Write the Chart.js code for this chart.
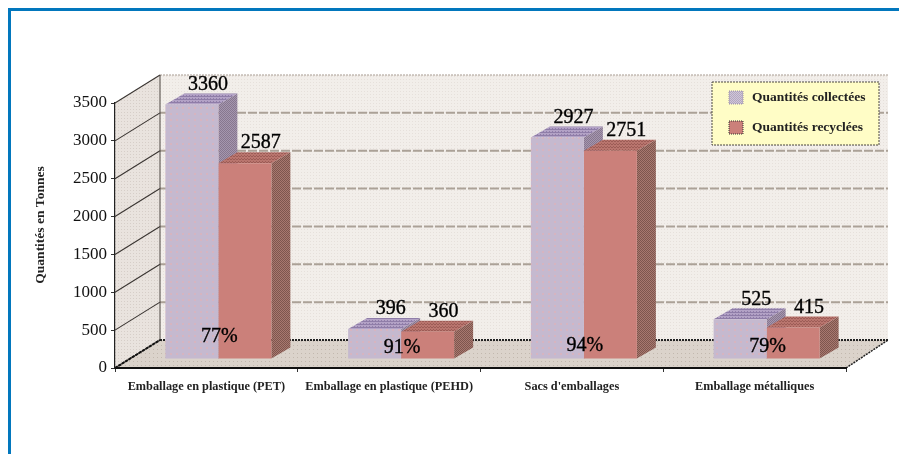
<!DOCTYPE html>
<html>
<head>
<meta charset="utf-8">
<script src="https://cdn.jsdelivr.net/npm/chart.js@4"></script>
<style>
  html, body { margin: 0; padding: 0; background: #fff; overflow: hidden; }
  #frame { position: absolute; left: 8px; top: 8px; width: 891px; height: 446px; border-top: 3px solid #0277bd; border-left: 3px solid #0277bd; box-sizing: border-box; }
  #wrap { position: absolute; left: 0; top: 0; width: 899px; height: 454px; }
  canvas { filter: blur(0.5px); }
</style>
</head>
<body>
<div id="frame"></div>
<div id="wrap"><canvas id="myChart" width="899" height="454"></canvas></div>
<script>
const categories = ['Emballage en plastique (PET)', 'Emballage en plastique (PEHD)', "Sacs d'emballages", 'Emballage métalliques'];
const collected = [3360, 396, 2927, 525];
const recycled = [2587, 360, 2751, 415];
const rates = ['77%', '91%', '94%', '79%'];
const yTitle = 'Quantités en Tonnes';

const serif = '"Liberation Serif", serif';
const wall = { dx: 45, dy: -28 };   // profondeur du mur du fond
const shift = { dx: 12, dy: -9 };   // les barres sont posées sur le sol
const depth = { dx: 19, dy: -11 };  // profondeur des barres
const rateLift = [22, 11, 13, 12];

// petit motif répété pour imiter la trame de l'image
function pattern(size, bg, dot, cells) {
  const c = document.createElement('canvas');
  c.width = c.height = size;
  const g = c.getContext('2d');
  g.fillStyle = bg;
  g.fillRect(0, 0, size, size);
  g.fillStyle = dot;
  cells.forEach(p => g.fillRect(p[0], p[1], 1, 1));
  return g.createPattern(c, 'repeat');
}
const fills = {
  back: pattern(3, '#f2eeea', '#e6e0db', [[1, 1]]),
  left: pattern(3, '#e9e3de', '#d6cec8', [[1, 1]]),
  floor: pattern(4, '#dbd3cb', '#c2b8ae', [[1, 1]]),
  purple: pattern(6, '#c5b9cf', '#d6b4c0', [[2, 2], [3, 2], [2, 3], [3, 3]]),
  purpleTop: pattern(3, '#b3a2c6', '#8f7da8', [[0, 0], [1, 0], [2, 0], [0, 2]]),
  purpleSide: pattern(2, '#a596ae', '#87778f', [[0, 0], [1, 1]]),
  red: '#cb807a',
  redTop: pattern(3, '#b9756e', '#9c5c56', [[0, 0], [2, 0], [1, 2]]),
  redSide: pattern(2, '#a8786f', '#7d564e', [[0, 0], [1, 1]]),
  swatchPurple: pattern(2, '#cfc5d8', '#b4a8c0', [[0, 0], [1, 1]])
};

function poly(ctx, pts, fill) {
  ctx.beginPath();
  pts.forEach((p, i) => i ? ctx.lineTo(p[0], p[1]) : ctx.moveTo(p[0], p[1]));
  ctx.closePath();
  ctx.fillStyle = fill;
  ctx.fill();
}
function line(ctx, x1, y1, x2, y2, color, width, dash) {
  ctx.beginPath();
  ctx.setLineDash(dash || []);
  ctx.moveTo(x1, y1);
  ctx.lineTo(x2, y2);
  ctx.strokeStyle = color;
  ctx.lineWidth = width;
  ctx.stroke();
  ctx.setLineDash([]);
}

const scene3d = {
  id: 'scene3d',
  // murs, sol et grille derrière tout le reste
  beforeDraw(chart) {
    const { ctx, chartArea: a, scales: { y } } = chart;
    const bx = a.left + wall.dx, bt = a.top + wall.dy, bb = a.bottom + wall.dy, br = a.right + 42;
    ctx.save();
    poly(ctx, [[bx, bt], [br, bt], [br, bb], [bx, bb]], fills.back);
    poly(ctx, [[a.left, a.top], [bx, bt], [bx, bb], [a.left, a.bottom]], fills.left);
    poly(ctx, [[a.left, a.bottom], [a.right, a.bottom], [br, bb], [bx, bb]], fills.floor);
    y.ticks.forEach(t => {
      const py = y.getPixelForValue(t.value);
      if (t.value > 0) {
        if (t.value === 3500) line(ctx, bx, py + wall.dy, br, py + wall.dy, '#a89c92', 1.2, [2, 1]);
        else line(ctx, bx, py + wall.dy, br, py + wall.dy, '#aba197', 2, [9, 2]);
      }
      line(ctx, a.left, py, bx, py + wall.dy, '#3a3532', 1.1);
    });
    line(ctx, bx, bt, bx, bb, '#4a4440', 1);
    line(ctx, bx, bb, br, bb, '#222', 2, [2, 1]);
    line(ctx, a.right, a.bottom, br, bb, '#222', 1.5, [2, 1]);
    line(ctx, a.left, a.bottom, bx, bb, '#111', 2, [3, 1]);
    ctx.restore();
  },
  // faces du dessus et de côté, puis les faces avant par Chart.js
  beforeDatasetsDraw(chart) {
    const { ctx } = chart;
    ctx.save();
    [[0, fills.purpleTop, fills.purpleSide], [1, fills.redTop, fills.redSide]].forEach(s => {
      chart.getDatasetMeta(s[0]).data.forEach(bar => {
        const l = bar.x - bar.width / 2 + shift.dx, r = bar.x + bar.width / 2 + shift.dx;
        const t = bar.y + shift.dy, b = bar.base + shift.dy;
        poly(ctx, [[r, t], [r + depth.dx, t + depth.dy], [r + depth.dx, b + depth.dy], [r, b]], s[2]);
        poly(ctx, [[l, t], [l + depth.dx, t + depth.dy], [r + depth.dx, t + depth.dy], [r, t]], s[1]);
      });
    });
    ctx.restore();
    ctx.save();
    ctx.translate(shift.dx, shift.dy);
  },
  afterDatasetsDraw(chart) {
    const { ctx } = chart;
    ctx.restore();
    ctx.save();
    ctx.fillStyle = '#000';
    ctx.strokeStyle = '#000';
    ctx.lineWidth = 0.35;
    ctx.textAlign = 'center';
    ctx.textBaseline = 'middle';
    ctx.font = '20px ' + serif;
    function label(txt, x, y) {
      ctx.fillText(txt, x, y);
      ctx.strokeText(txt, x, y);
    }
    chart.data.datasets.forEach((ds, i) => {
      chart.getDatasetMeta(i).data.forEach((bar, j) => {
        label(String(ds.data[j]), bar.x + shift.dx + 16, bar.y + shift.dy + depth.dy - 9);
      });
    });
    const reds = chart.getDatasetMeta(1).data;
    rates.forEach((txt, j) => {
      const bar = reds[j];
      label(txt, bar.x - bar.width / 2 + shift.dx + 1, bar.base + shift.dy - rateLift[j]);
    });
    drawLegend(chart);
    // titre de l'axe, un peu au-dessus du milieu comme sur l'original
    ctx.translate(41, 225);
    ctx.rotate(-Math.PI / 2);
    ctx.textAlign = 'center';
    ctx.font = 'bold 13.5px ' + serif;
    ctx.fillStyle = '#222';
    ctx.fillText(yTitle, 0, 0);
    ctx.restore();
  }
};

function drawLegend(chart) {
  const { ctx } = chart;
  ctx.fillStyle = '#fffdc6';
  ctx.fillRect(712, 82, 167, 63);
  ctx.strokeStyle = '#4a4640';
  ctx.lineWidth = 1;
  ctx.setLineDash([2, 1]);
  ctx.strokeRect(712, 82, 167, 63);
  ctx.setLineDash([]);
  ctx.textAlign = 'left';
  ctx.font = 'bold 13.5px ' + serif;
  chart.data.datasets.forEach((ds, i) => {
    const y = 91 + i * 30;
    ctx.fillStyle = i ? fills.red : fills.swatchPurple;
    ctx.fillRect(729, y, 14, 13);
    ctx.strokeStyle = i ? '#333' : '#9a8ea6';
    ctx.setLineDash([1, 1]);
    ctx.strokeRect(729, y, 14, 13);
    ctx.setLineDash([]);
    ctx.fillStyle = '#222';
    ctx.fillText(ds.label, 752, y + 7);
  });
}

const ctx = document.getElementById('myChart').getContext('2d');
const myChart = new Chart(ctx, {
  type: 'bar',
  data: {
    labels: categories,
    datasets: [
      { label: 'Quantités collectées', data: collected, backgroundColor: fills.purple },
      { label: 'Quantités recyclées', data: recycled, backgroundColor: fills.red }
    ]
  },
  plugins: [scene3d],
  options: {
    responsive: false,
    animation: false,
    categoryPercentage: 0.58,
    barPercentage: 1,
    layout: { padding: { top: 103, right: 53, left: 0, bottom: 0 } },
    plugins: { legend: { display: false }, title: { display: false }, tooltip: { enabled: false } },
    scales: {
      x: {
        afterFit: s => { s.height = 86; },
        grid: { drawOnChartArea: false, tickLength: 4, color: '#333' },
        border: { color: '#111', width: 2, dash: [3, 1] },
        ticks: { autoSkip: false, maxRotation: 0, padding: 7, color: '#222', font: { family: serif, size: 12.3, weight: 'bold' } }
      },
      y: {
        min: 0,
        max: 3500,
        afterFit: s => { s.width = 115; },
        grid: { drawOnChartArea: false, tickLength: 4, color: '#333' },
        border: { color: '#222', width: 1.2, dash: [2, 1] },
        ticks: { stepSize: 500, padding: 4, color: '#111', callback: v => String(v), font: { family: serif, size: 17 } }
      }
    }
  }
});
</script>
</body>
</html>
